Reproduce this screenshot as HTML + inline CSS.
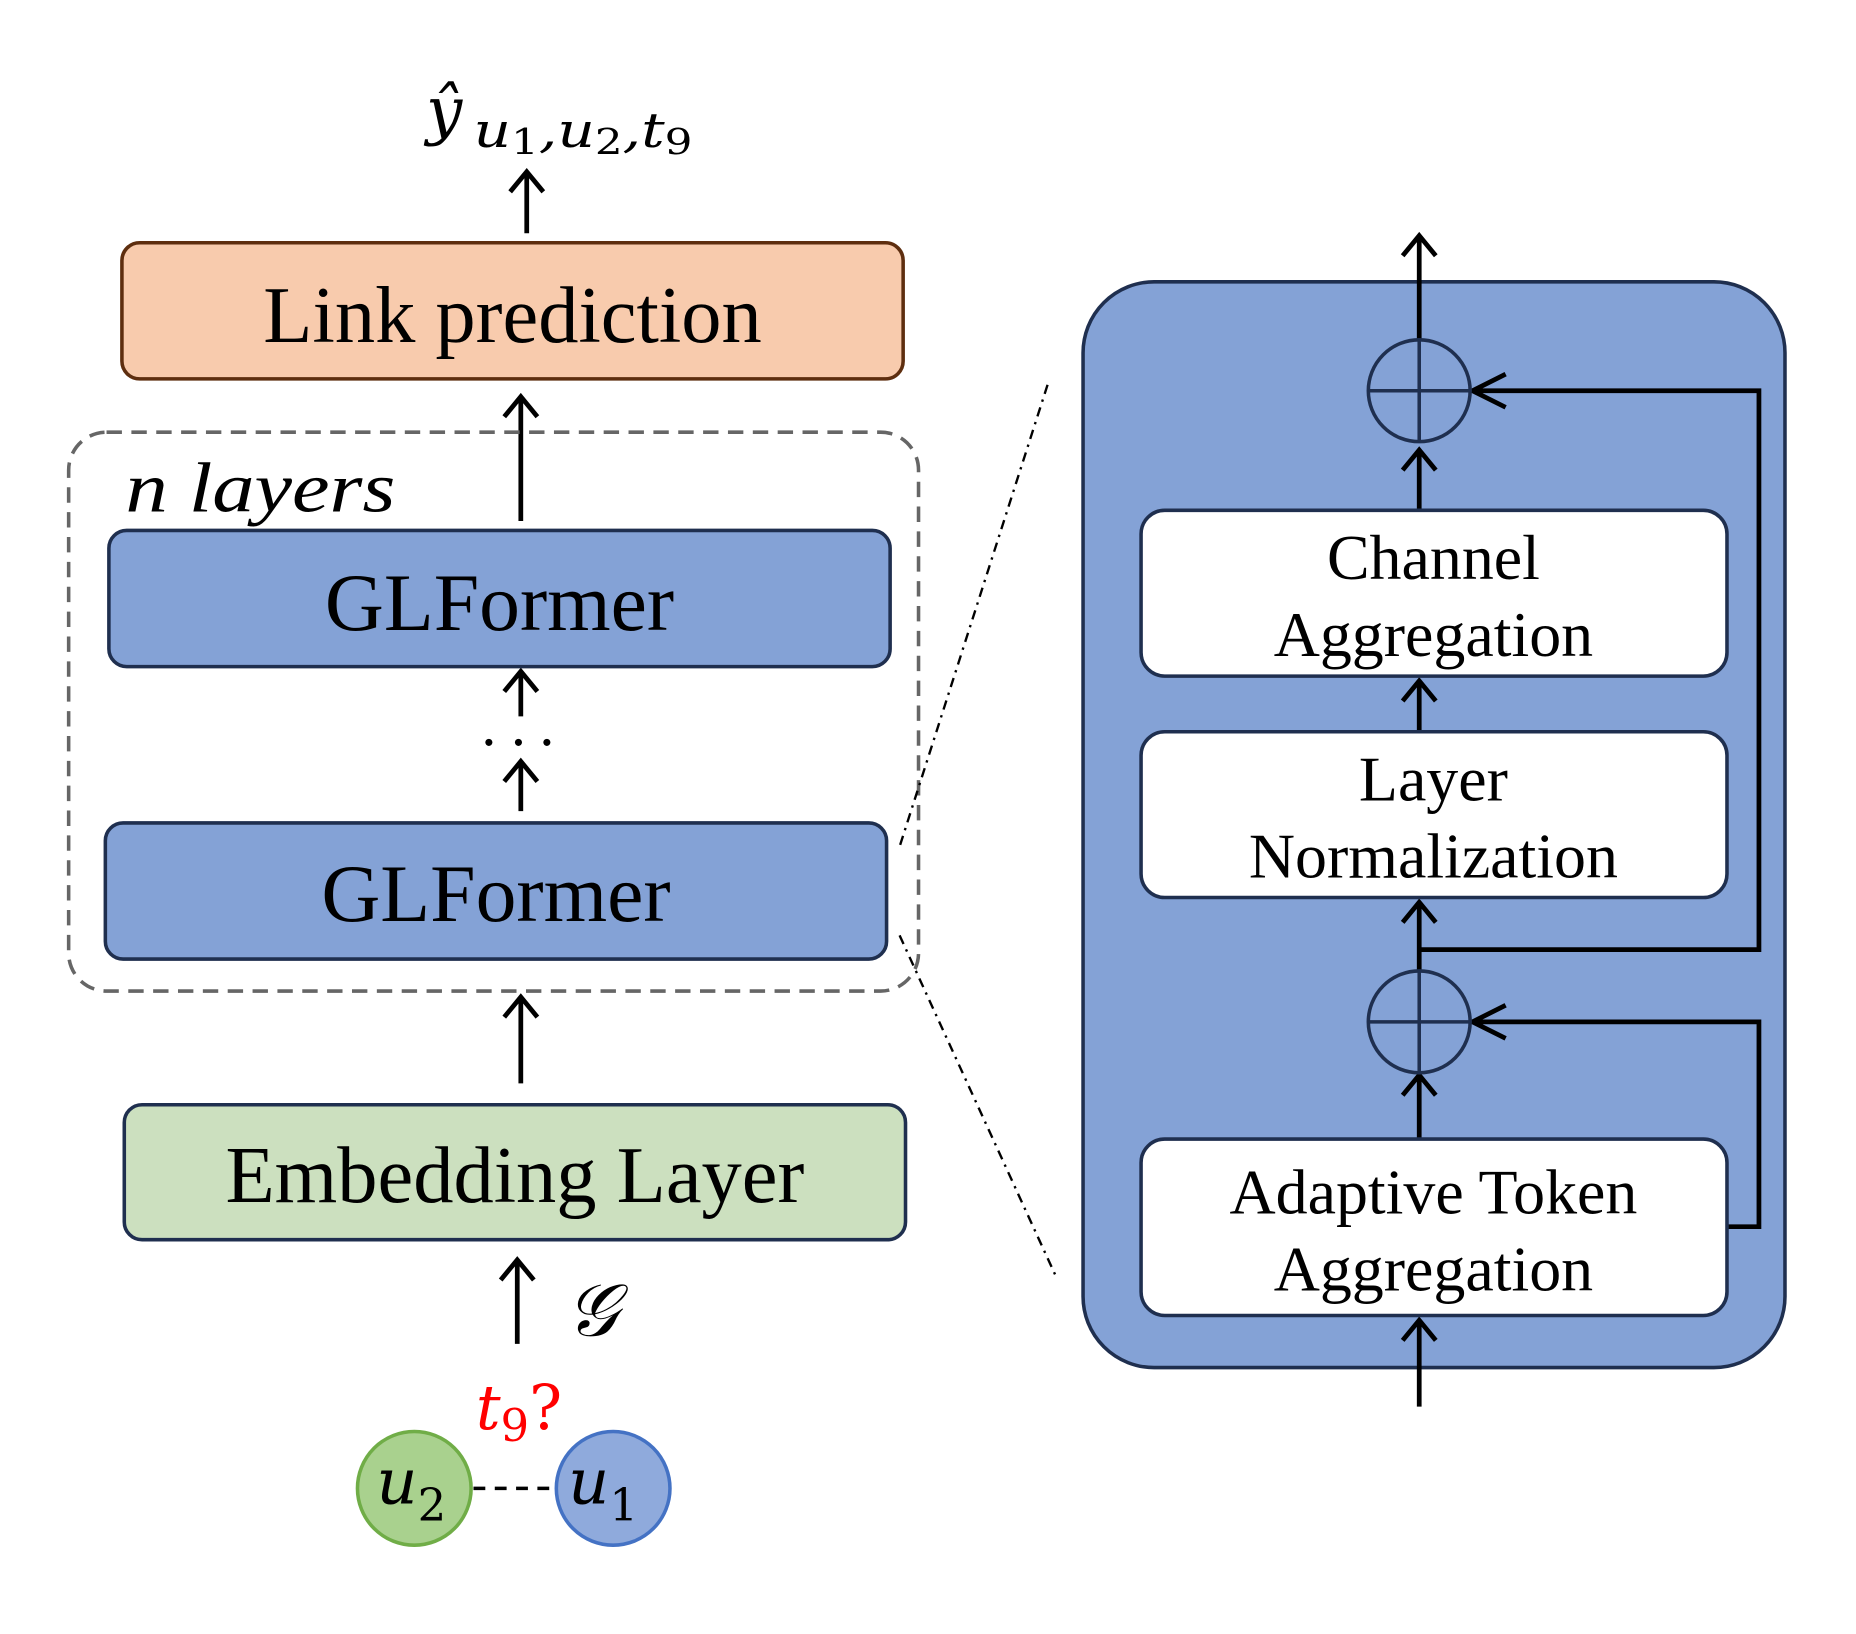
<!DOCTYPE html>
<html><head><meta charset="utf-8"><style>html,body{margin:0;padding:0;background:#fff}svg{display:block}</style></head>
<body>
<svg width="1856" height="1634" viewBox="0 0 1568 1380" preserveAspectRatio="none" xmlns="http://www.w3.org/2000/svg" font-family="Liberation Serif, serif">
<g stroke="#000" stroke-width="4" fill="none" stroke-linecap="butt">
<path d="M445 197V147M431 162L445 145L459 162"/>
<path d="M440 440V335M426 352L440 335L454 352"/>
<path d="M440 605V567M426 584L440 567L454 584"/>
<path d="M440 685V643M426 660L440 643L454 660"/>
<path d="M440 915V842M426 859L440 842L454 859"/>
<path d="M437 1135V1064M423 1081L437 1064L451 1081"/>
</g>
<text x="360" y="112" font-family="DejaVu Serif, serif" font-style="italic" font-size="54">ŷ</text>
<text x="400" y="124" font-family="DejaVu Serif, serif" font-style="italic" font-size="40" textLength="185" lengthAdjust="spacingAndGlyphs">u<tspan font-size="30" dy="6" font-style="normal">1</tspan><tspan dy="-6">,u</tspan><tspan font-size="30" dy="6" font-style="normal">2</tspan><tspan dy="-6">,t</tspan><tspan font-size="30" dy="6" font-style="normal">9</tspan></text>
<rect x="103" y="205" width="660" height="115" rx="15" fill="#F8CBAD" stroke="#5E2E0F" stroke-width="3"/>
<text x="433" y="289" font-size="68" text-anchor="middle">Link prediction</text>
<rect x="58" y="365" width="718" height="472" rx="32" fill="none" stroke="#666" stroke-width="3" stroke-dasharray="13,8"/>
<text x="106" y="432" font-size="60" font-style="italic" textLength="228" lengthAdjust="spacingAndGlyphs">n layers</text>
<rect x="92" y="448" width="660" height="115" rx="15" fill="#84A2D6" stroke="#1F2F4F" stroke-width="3"/>
<text x="422" y="532" font-size="69" text-anchor="middle">GLFormer</text>
<g fill="#000"><circle cx="413" cy="627" r="3"/><circle cx="438" cy="627" r="3"/><circle cx="462" cy="627" r="3"/></g>
<rect x="89" y="695" width="660" height="115" rx="15" fill="#84A2D6" stroke="#1F2F4F" stroke-width="3"/>
<text x="419" y="778" font-size="69" text-anchor="middle">GLFormer</text>
<rect x="105" y="933" width="660" height="114" rx="15" fill="#CCE0BF" stroke="#1F2F4F" stroke-width="3"/>
<text x="435" y="1015" font-size="68" text-anchor="middle">Embedding Layer</text>
<text x="478" y="1128" font-size="62" font-style="italic" font-family="DejaVu Serif, serif">𝒢</text>
<text x="402" y="1207" font-size="52" font-style="italic" fill="#FF0000" font-family="DejaVu Serif, serif">t<tspan font-size="38" dy="10" font-style="normal">9</tspan><tspan dy="-10" font-style="normal">?</tspan></text>
<line x1="400" y1="1257" x2="468" y2="1257" stroke="#000" stroke-width="3" stroke-dasharray="10,8"/>
<circle cx="350" cy="1257" r="48" fill="#A9D18E" stroke="#70AD47" stroke-width="3"/>
<circle cx="518" cy="1257" r="48" fill="#8FAADC" stroke="#4472C4" stroke-width="3"/>
<text x="318" y="1270" font-size="54" font-style="italic" font-family="DejaVu Serif, serif">u<tspan font-size="38" dy="14" font-style="normal">2</tspan></text>
<text x="480" y="1270" font-size="54" font-style="italic" font-family="DejaVu Serif, serif">u<tspan font-size="38" dy="14" font-style="normal">1</tspan></text>
<g stroke="#000" stroke-width="2" stroke-dasharray="8,5,2,5"><line x1="885" y1="325" x2="760" y2="715"/><line x1="760" y1="790" x2="893" y2="1080"/></g>
<rect x="915" y="238" width="593" height="917" rx="60" fill="#84A2D6" stroke="#1F2F4F" stroke-width="3"/>
<g stroke="#000" stroke-width="4" fill="none">
<path d="M1199 287V199M1185 216L1199 199L1213 216"/>
<path d="M1199 430V380M1185 397L1199 380L1213 397"/>
<path d="M1199 617V575M1185 592L1199 575L1213 592"/>
<path d="M1199 820V762M1185 779L1199 762L1213 779"/>
<path d="M1199 802H1486V330H1244M1272 316L1244 330L1272 344"/>
<path d="M1199 962V908M1185 925L1199 908L1213 925"/>
<path d="M1459 1036H1486V863H1244M1272 849L1244 863L1272 877"/>
<path d="M1199 1188V1115M1185 1132L1199 1115L1213 1132"/>
</g>
<g stroke="#1F2F4F" stroke-width="3" fill="none">
<circle cx="1199" cy="330" r="43"/><path d="M1156 330H1242M1199 287V373"/>
<circle cx="1199" cy="863" r="43"/><path d="M1156 863H1242M1199 820V906"/>
</g>
<g fill="#fff" stroke="#1F2F4F" stroke-width="3">
<rect x="964" y="431" width="495" height="140" rx="20"/>
<rect x="964" y="618" width="495" height="140" rx="20"/>
<rect x="964" y="962" width="495" height="149" rx="20"/>
</g>
<g font-size="54" text-anchor="middle">
<text x="1211" y="489">Channel</text><text x="1211" y="554">Aggregation</text>
<text x="1211" y="676">Layer</text><text x="1211" y="741">Normalization</text>
<text x="1211" y="1025">Adaptive Token</text><text x="1211" y="1090">Aggregation</text>
</g>
</svg>
</body></html>
